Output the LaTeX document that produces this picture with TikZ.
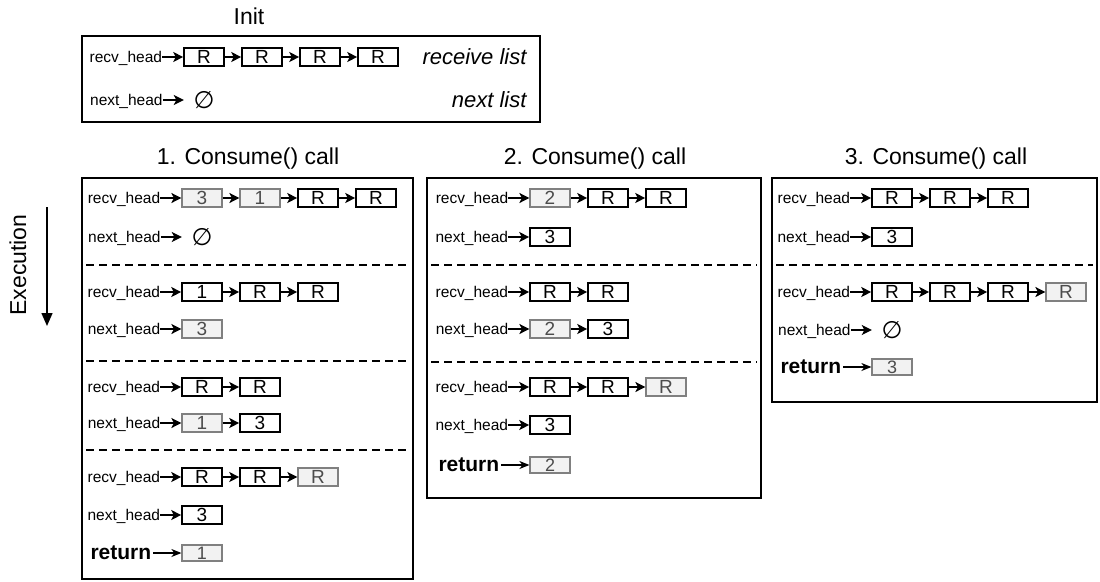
\documentclass[tikz,border=0pt]{standalone}
\usepackage{fontspec}
\setmainfont{Liberation Sans}
\newfontfamily\djv{DejaVu Sans}
\usetikzlibrary{positioning,arrows.meta}

\begin{document}
\begin{tikzpicture}[
  x=1pt, y=-1pt,
  lbl/.style={inner sep=0pt, text depth=0pt, font=\fontsize{15.5}{18}\selectfont},
  rb/.style={rectangle, draw=black, line width=1.6pt, minimum width=40pt,
             minimum height=18pt, inner sep=0pt, font=\fontsize{19}{19}\selectfont},
  used/.style={rb, draw=black!50, fill=black!5, text=black!70, line width=1.2pt},
  ret/.style={used, minimum height=16pt, font=\fontsize{18}{18}\selectfont},
  retl/.style={lbl, font=\bfseries\fontsize{21}{24}\selectfont},
  nul/.style={minimum width=40pt, inner sep=0pt, font=\djv\fontsize{24}{24}\selectfont},
  ttl/.style={font=\fontsize{23}{26}\selectfont},
  lst/.style={anchor=east, font=\itshape\fontsize{22}{26}\selectfont},
  frm/.style={draw=black, line width=1.6pt},
  divider/.style={line width=1.4pt, dash pattern=on 8pt off 5pt},
  nx/.style={-{Stealth[length=10pt,width=10pt,inset=2.5pt]}, line width=1.6pt},
  rt/.style={-{Stealth[length=10pt,width=8pt,inset=3pt]}, line width=1.3pt, shorten <=2pt}
]
\useasboundingbox (0,0) rectangle (1100,581);

% execution direction
\node[ttl, rotate=90] (exe) at (18,265) {Execution};
\coordinate (etop) at (47,207);
\coordinate (ebot) at (47,326);
\draw[-{Triangle[length=13pt,width=11pt]}, line width=1.4pt] (etop) -- (ebot);

% Init
\node[ttl] (tinit) at (249,16) {Init};
\draw[frm] (82,36) rectangle (540,122);
\node[rb] (i1) at (204,57) {R};
\node[rb] (i2) at (262,57) {R};
\node[rb] (i3) at (320,57) {R};
\node[rb] (i4) at (378,57) {R};
\node[lbl, left=21pt of i1] (irl) {recv\_head};
\node[nul] (i0) at (204,100) {∅};
\node[lbl, left=21pt of i0] (inl) {next\_head};
\node[lst] (rcv) at (530,57) {receive list};
\node[lst] (nxt) at (530,100) {next list};
\draw[nx] (irl) -- (i1);
\draw[nx] (i1) -- (i2);
\draw[nx] (i2) -- (i3);
\draw[nx] (i3) -- (i4);
\draw[nx] (inl) -- (i0);

% 1. Consume() call
\node[ttl] (t1) at (248,159) {1. Consume() call};
\draw[frm] (82,178) rectangle (413,579);
\node[used] (p1a1) at (202,198) {3};
\node[used] (p1a2) at (260,198) {1};
\node[rb] (p1a3) at (318,198) {R};
\node[rb] (p1a4) at (376,198) {R};
\node[lbl, left=21pt of p1a1] (p1al) {recv\_head};
\node[nul] (p1b1) at (202,237) {∅};
\node[lbl, left=21pt of p1b1] (p1bl) {next\_head};
\draw[divider] (86,265) -- (409,265);
\node[rb] (p1c1) at (202,292) {1};
\node[rb] (p1c2) at (260,292) {R};
\node[rb] (p1c3) at (318,292) {R};
\node[lbl, left=21pt of p1c1] (p1cl) {recv\_head};
\node[used] (p1d1) at (202,329) {3};
\node[lbl, left=21pt of p1d1] (p1dl) {next\_head};
\draw[divider] (86,361) -- (409,361);
\node[rb] (p1e1) at (202,387) {R};
\node[rb] (p1e2) at (260,387) {R};
\node[lbl, left=21pt of p1e1] (p1el) {recv\_head};
\node[used] (p1f1) at (202,423) {1};
\node[rb] (p1f2) at (260,423) {3};
\node[lbl, left=21pt of p1f1] (p1fl) {next\_head};
\draw[divider] (86,450) -- (409,450);
\node[rb] (p1g1) at (202,477) {R};
\node[rb] (p1g2) at (260,477) {R};
\node[used] (p1g3) at (318,477) {R};
\node[lbl, left=21pt of p1g1] (p1gl) {recv\_head};
\node[rb] (p1h1) at (202,515) {3};
\node[lbl, left=21pt of p1h1] (p1hl) {next\_head};
\node[ret] (p1r1) at (202,553) {1};
\node[retl, left=30pt of p1r1] (p1rl) {return};
\draw[nx] (p1al) -- (p1a1);
\draw[nx] (p1a1) -- (p1a2);
\draw[nx] (p1a2) -- (p1a3);
\draw[nx] (p1a3) -- (p1a4);
\draw[nx] (p1bl) -- (p1b1);
\draw[nx] (p1cl) -- (p1c1);
\draw[nx] (p1c1) -- (p1c2);
\draw[nx] (p1c2) -- (p1c3);
\draw[nx] (p1dl) -- (p1d1);
\draw[nx] (p1el) -- (p1e1);
\draw[nx] (p1e1) -- (p1e2);
\draw[nx] (p1fl) -- (p1f1);
\draw[nx] (p1f1) -- (p1f2);
\draw[nx] (p1gl) -- (p1g1);
\draw[nx] (p1g1) -- (p1g2);
\draw[nx] (p1g2) -- (p1g3);
\draw[nx] (p1hl) -- (p1h1);
\draw[rt] (p1rl) -- (p1r1);

% 2. Consume() call
\node[ttl] (t2) at (595,159) {2. Consume() call};
\draw[frm] (427,178) rectangle (761,498);
\node[used] (p2a1) at (550,198) {2};
\node[rb] (p2a2) at (608,198) {R};
\node[rb] (p2a3) at (666,198) {R};
\node[lbl, left=21pt of p2a1] (p2al) {recv\_head};
\node[rb] (p2b1) at (550,237) {3};
\node[lbl, left=21pt of p2b1] (p2bl) {next\_head};
\draw[divider] (431,265) -- (757,265);
\node[rb] (p2c1) at (550,292) {R};
\node[rb] (p2c2) at (608,292) {R};
\node[lbl, left=21pt of p2c1] (p2cl) {recv\_head};
\node[used] (p2d1) at (550,329) {2};
\node[rb] (p2d2) at (608,329) {3};
\node[lbl, left=21pt of p2d1] (p2dl) {next\_head};
\draw[divider] (431,362) -- (757,362);
\node[rb] (p2e1) at (550,387) {R};
\node[rb] (p2e2) at (608,387) {R};
\node[used] (p2e3) at (666,387) {R};
\node[lbl, left=21pt of p2e1] (p2el) {recv\_head};
\node[rb] (p2f1) at (550,425) {3};
\node[lbl, left=21pt of p2f1] (p2fl) {next\_head};
\node[ret] (p2r1) at (550,465) {2};
\node[retl, left=30pt of p2r1] (p2rl) {return};
\draw[nx] (p2al) -- (p2a1);
\draw[nx] (p2a1) -- (p2a2);
\draw[nx] (p2a2) -- (p2a3);
\draw[nx] (p2bl) -- (p2b1);
\draw[nx] (p2cl) -- (p2c1);
\draw[nx] (p2c1) -- (p2c2);
\draw[nx] (p2dl) -- (p2d1);
\draw[nx] (p2d1) -- (p2d2);
\draw[nx] (p2el) -- (p2e1);
\draw[nx] (p2e1) -- (p2e2);
\draw[nx] (p2e2) -- (p2e3);
\draw[nx] (p2fl) -- (p2f1);
\draw[rt] (p2rl) -- (p2r1);

% 3. Consume() call
\node[ttl] (t3) at (936,159) {3. Consume() call};
\draw[frm] (772,178) rectangle (1097,402);
\node[rb] (p3a1) at (892,198) {R};
\node[rb] (p3a2) at (950,198) {R};
\node[rb] (p3a3) at (1008,198) {R};
\node[lbl, left=21pt of p3a1] (p3al) {recv\_head};
\node[rb] (p3b1) at (892,237) {3};
\node[lbl, left=21pt of p3b1] (p3bl) {next\_head};
\draw[divider] (776,265) -- (1093,265);
\node[rb] (p3c1) at (892,292) {R};
\node[rb] (p3c2) at (950,292) {R};
\node[rb] (p3c3) at (1008,292) {R};
\node[used] (p3c4) at (1066,292) {R};
\node[lbl, left=21pt of p3c1] (p3cl) {recv\_head};
\node[nul] (p3d1) at (892,330) {∅};
\node[lbl, left=21pt of p3d1] (p3dl) {next\_head};
\node[ret] (p3r1) at (892,367) {3};
\node[retl, left=30pt of p3r1] (p3rl) {return};
\draw[nx] (p3al) -- (p3a1);
\draw[nx] (p3a1) -- (p3a2);
\draw[nx] (p3a2) -- (p3a3);
\draw[nx] (p3bl) -- (p3b1);
\draw[nx] (p3cl) -- (p3c1);
\draw[nx] (p3c1) -- (p3c2);
\draw[nx] (p3c2) -- (p3c3);
\draw[nx] (p3c3) -- (p3c4);
\draw[nx] (p3dl) -- (p3d1);
\draw[rt] (p3rl) -- (p3r1);
\end{tikzpicture}
\end{document}
